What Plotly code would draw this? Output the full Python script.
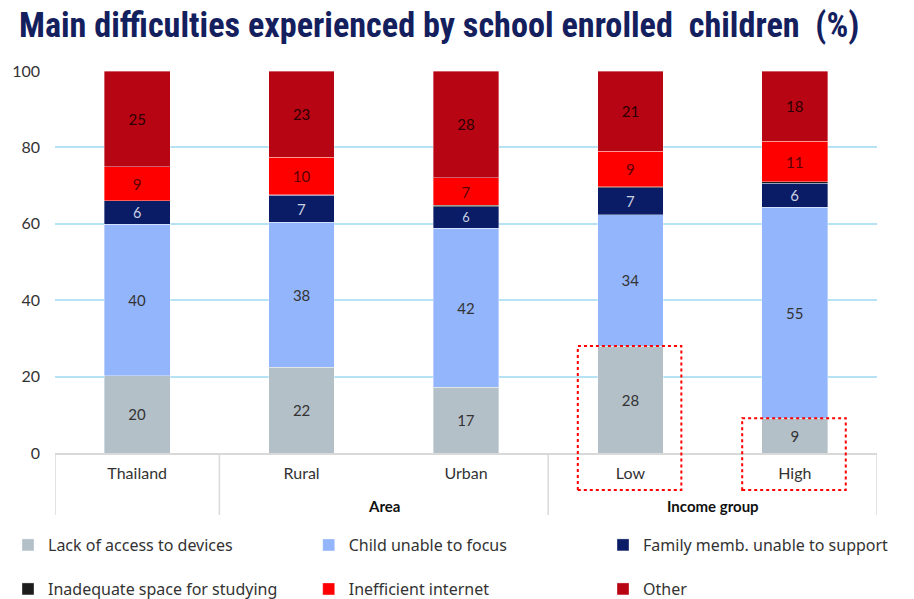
import plotly.graph_objects as go

categories = ["Thailand", "Rural", "Urban", "Low", "High"]
lack_devices = [20.2, 22.4, 17.2, 28.0, 9.1]
unable_focus = [39.7, 38.0, 41.7, 34.4, 55.2]
family_unable = [6.1, 7.1, 5.6, 7.1, 6.3]
inadequate_space = [0.1, 0.1, 0.4, 0.2, 0.4]
inefficient_internet = [8.8, 9.8, 7.1, 9.3, 10.6]
other = [25.1, 22.6, 28.0, 21.0, 18.4]

groups = ["Area", "Income group"]
group_centers = [1.5, 3.5]
highlighted = ["Low", "High"]

# name, values, bar colour, label colour, show labels
series = [
    ("Lack of access to devices", lack_devices, "#b3c0c8", "#333333", True),
    ("Child unable to focus", unable_focus, "#93b5fb", "#333333", True),
    ("Family memb. unable to support", family_unable, "#0a1c66", "#c9d0e2", True),
    ("Inadequate space for studying", inadequate_space, "#1c1c1c", "#ffffff", False),
    ("Inefficient internet", inefficient_internet, "#ff0000", "#5a0000", True),
    ("Other", other, "#b80514", "#2a0000", True),
]

# one small legend per entry, laid out as a 3 x 2 grid
legend_cols = [0.0, 0.329, 0.651]
legend_rows = [0.1035, 0.030]

fig = go.Figure()
legends = {}
for k, (name, vals, color, tcolor, show_text) in enumerate(series):
    leg = "legend" if k == 0 else f"legend{k + 1}"
    fig.add_trace(go.Bar(
        x=categories, y=vals, name=name, showlegend=True,
        marker=dict(color=color, line=dict(color="rgba(255,255,255,0.6)", width=0.6)),
        text=[f"{v:.0f}" for v in vals] if show_text else None,
        textposition="inside", insidetextanchor="middle", textangle=0,
        textfont=dict(family="Lato, Roboto", size=15, color=tcolor),
        width=0.4, legend=leg,
    ))
    legends[leg] = dict(orientation="h", xanchor="left", yanchor="middle",
                        xref="container", yref="container",
                        x=legend_cols[k % 3], y=legend_rows[k // 3], visible=True,
                        font=dict(family="Noto Sans", size=16, color="#333333"))

shapes = []
line_col = "#d9d9d9"
# table lines under the axis
for xv in [-0.5, 0.5, 2.5, 4.5]:
    shapes.append(dict(type="line", xref="x", yref="paper", x0=xv, x1=xv, y0=0, y1=-0.162,
                       line=dict(color=line_col, width=1.5)))
# dotted highlight boxes
for cat in highlighted:
    i = categories.index(cat)
    shapes.append(dict(type="rect", xref="x", yref="paper",
                       x0=i - 0.32, x1=i + 0.31, y0=-0.097, y1=lack_devices[i] / 100,
                       line=dict(color="#ff0000", width=2, dash="dot")))

annotations = []
for g, c in zip(groups, group_centers):
    annotations.append(dict(x=c, y=-0.139, xref="x", yref="paper", yanchor="middle",
                            text=f"<b>{g}</b>", showarrow=False,
                            font=dict(family="Lato, Roboto", size=15, color="#111111")))

fig.update_layout(
    width=914, height=599,
    margin=dict(l=47, r=45, t=63, b=154),
    paper_bgcolor="white", plot_bgcolor="white",
    barmode="stack",
    showlegend=True,
    title=dict(text="<b>Main difficulties experienced by school enrolled  children  (%)</b>",
               x=0.012, xanchor="left", xref="container", y=0.971, yanchor="middle", yref="container",
               font=dict(family="Liberation Sans Narrow, Roboto Condensed, Roboto", size=34.2, color="#14205e")),
    xaxis=dict(range=[-0.5, 4.5], showgrid=False, showline=True, linecolor=line_col, linewidth=1.5,
               ticks="", tickfont=dict(family="Lato, Roboto", size=16, color="#333333"),
               ticklabelstandoff=5, automargin=False),
    yaxis=dict(range=[0, 100], dtick=20, showgrid=True, gridcolor="#b5e3f5", gridwidth=1.5,
               zeroline=False, showline=False, ticks="",
               tickfont=dict(family="Lato, Roboto", size=16, color="#333333"),
               ticklabelstandoff=14, automargin=False),
    shapes=shapes,
    annotations=annotations,
    bargap=0.6,
    **legends,
)

fig.write_html("out.html")
